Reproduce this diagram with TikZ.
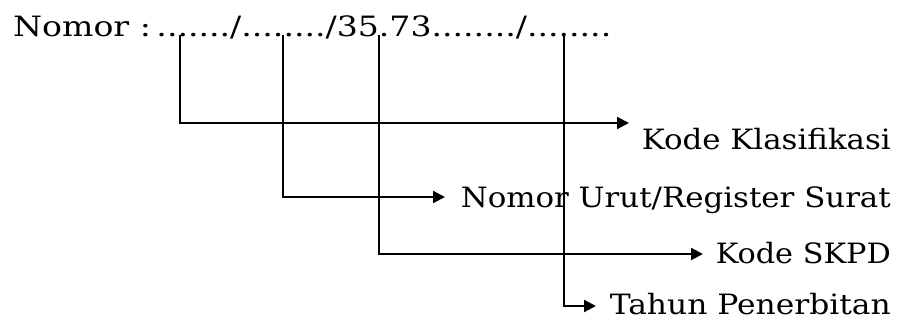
\documentclass[tikz,border=0pt]{standalone}
\usepackage{fontspec}
\usepackage{graphicx}
\setmainfont{DejaVu Serif}
\usetikzlibrary{arrows.meta}
\newcommand{\fitw}[2]{\resizebox{#1}{\height}{#2}}
\begin{document}
\begin{tikzpicture}[x=1pt,y=1pt,
  txt/.style={inner sep=0pt,font=\fontsize{28}{32}\selectfont},
  conn/.style={line width=2.2pt},
  arr/.style={conn,-{Triangle[length=12pt,width=12pt]}}]
\useasboundingbox (0,0) rectangle (898,320);
\node[txt,anchor=base west] (top) at (13,283) {\fitw{598pt}{Nomor :\,......./......../35.73......../........}};
\node[txt,anchor=base east] (k1) at (891,170) {\fitw{249pt}{Kode Klasifikasi}};
\node[txt,anchor=base east] (k2) at (891,112) {\fitw{430pt}{Nomor Urut/Register Surat}};
\node[txt,anchor=base east] (k3) at (891,56) {\fitw{175pt}{Kode SKPD}};
\node[txt,anchor=base east] (k4) at (891,5) {\fitw{281pt}{Tahun Penerbitan}};
\coordinate (c1) at (180,285);
\coordinate (c2) at (283,285);
\coordinate (c3) at (379,285);
\coordinate (c4) at (564,285);
\coordinate (e1) at (629,197);
\coordinate (e2) at (445,123);
\coordinate (e3) at (703,66);
\coordinate (e4) at (596,14);
\draw[arr] (c1) |- (e1);
\draw[arr] (c2) |- (e2);
\draw[arr] (c3) |- (e3);
\draw[arr] (c4) |- (e4);
\end{tikzpicture}
\end{document}
